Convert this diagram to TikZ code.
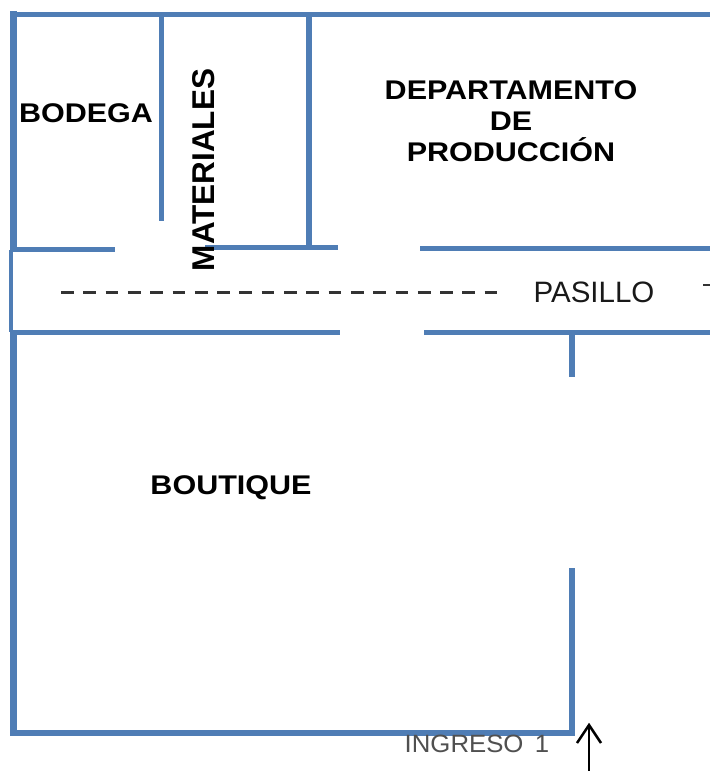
\documentclass[tikz,border=0pt]{standalone}
\usepackage{fontspec}
\setmainfont{Liberation Sans}
\definecolor{wall}{HTML}{4F7DB5}
\definecolor{dashc}{HTML}{333333}
\definecolor{ing}{HTML}{505050}
\newcommand{\wideb}[1]{\scalebox{1.13}[1]{#1}}
\tikzset{
  wallline/.style={draw=wall,line width=5pt},
  thickwall/.style={draw=wall,line width=7pt},
  thinwall/.style={draw=wall,line width=3.5pt},
  boldlabel/.style={font=\fontsize{27}{31}\selectfont\bfseries,inner sep=0pt,align=center,text=black},
  plainlabel/.style={font=\fontsize{29.5}{34}\selectfont,inner sep=0pt,text=black!90}
}
\begin{document}
\begin{tikzpicture}[x=1pt,y=-1pt]
\useasboundingbox (0,0) rectangle (710,771);
\fill[white] (0,0) rectangle (710,771);
% outer and room walls
\draw[thickwall] (13,11) -- (13,250);
\draw[thinwall] (11,250) -- (11,332);
\draw[thickwall] (13,332) -- (13,736);
\draw[wallline] (10,14) -- (710,14);
\draw[wallline] (161,14) -- (161,221);
\draw[wallline,line width=6pt] (309,14) -- (309,248);
\draw[wallline] (11,249) -- (115,249);
\draw[wallline] (205,247) -- (338,247);
\draw[wallline] (420,248) -- (710,248);
\draw[wallline] (11,332) -- (340,332);
\draw[wallline] (424,332) -- (710,332);
\draw[wallline,line width=6pt] (572,332) -- (572,377);
\draw[wallline,line width=6pt] (572,568) -- (572,736);
\draw[wallline,line width=6pt] (11,733) -- (575,733);
% labels
\node[boldlabel] (bodega) at (86,113) {\wideb{BODEGA}};
\node[boldlabel,font=\fontsize{31.5}{36}\selectfont\bfseries,rotate=90] (materiales) at (204,170) {MATERIALES};
\node[boldlabel] (depto) at (511,121) {\wideb{DEPARTAMENTO}\\\wideb{DE}\\\wideb{PRODUCCIÓN}};
\node[boldlabel] (boutique) at (231,488) {\wideb{BOUTIQUE}};
\node[plainlabel] (pasillo) at (594,292) {PASILLO};
\node[inner sep=0pt,text=ing,font=\fontsize{25}{30}\selectfont] (ingreso) at (477,744) {\scalebox{1.03}[1]{INGRESO\ \,1}};
% corridor line
\coordinate (dashstart) at (61,292);
\coordinate (dashend) at (497,292);
\draw[dashc,line width=3pt,dash pattern=on 12.7pt off 9.6pt] (dashstart) -- (dashend);
\coordinate (tickL) at (703,285);
\coordinate (tickR) at (710,285);
\draw[dashc,line width=2.5pt] (tickL) -- (tickR);
% entrance arrow
\coordinate (arrowfoot) at (589,771);
\coordinate (arrowtip) at (589,725);
\coordinate (headL) at (577,743);
\coordinate (headR) at (601,743);
\draw[black,line width=2.5pt] (arrowfoot) -- (arrowtip);
\draw[black,line width=2.5pt] (headL) -- (arrowtip) -- (headR);
\end{tikzpicture}
\end{document}
